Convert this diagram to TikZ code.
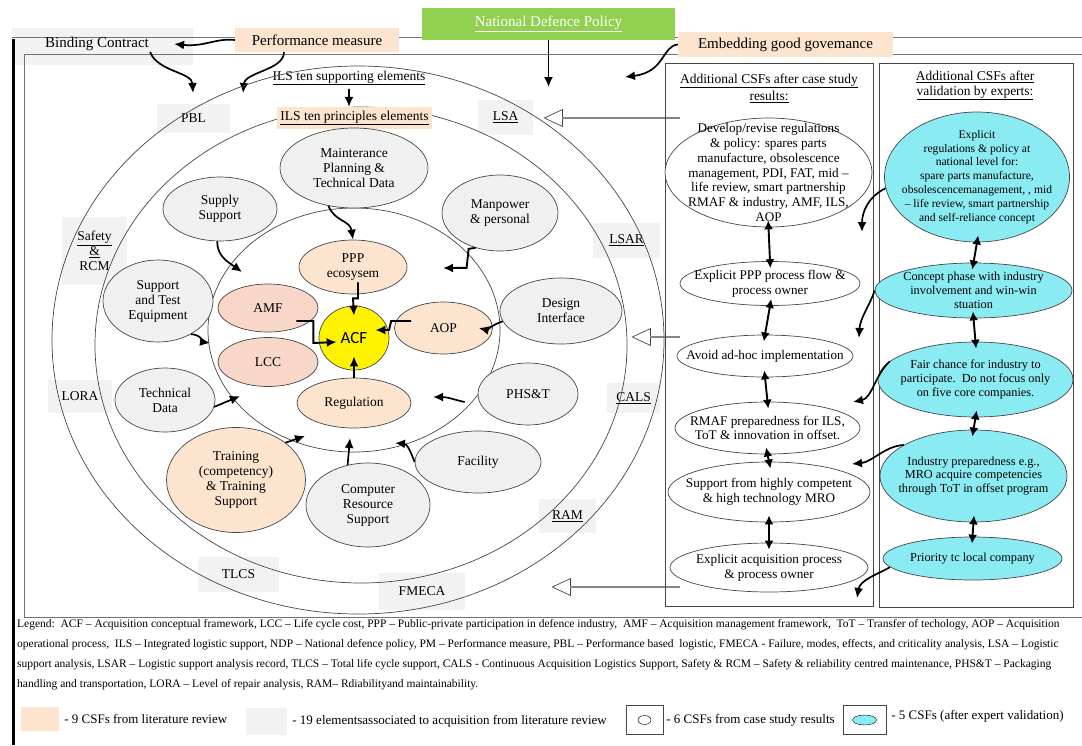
\documentclass[tikz,border=0pt]{standalone}
\usepackage{fontspec}
\setmainfont{Liberation Serif}
\newfontfamily\acffont{Carlito}
\usetikzlibrary{arrows.meta,shapes.geometric,shapes.arrows}

\definecolor{peach}{RGB}{252,228,206}
\definecolor{pinkpeach}{RGB}{248,214,200}
\definecolor{elemgray}{RGB}{240,240,240}
\definecolor{tagfill}{RGB}{242,242,242}
\definecolor{expcyan}{RGB}{138,236,242}
\definecolor{ndpgreen}{RGB}{146,208,80}
\definecolor{linegray}{RGB}{70,70,70}

\newcommand{\fsT}{\fontsize{15}{17}\selectfont}
\newcommand{\fsA}{\fontsize{13.5}{15}\selectfont}
\newcommand{\fsB}{\fontsize{13.2}{14.7}\selectfont}
\newcommand{\fsC}{\fontsize{12.3}{13.8}\selectfont}
\newcommand{\fsL}{\fontsize{11.5}{13}\selectfont}
\newcommand{\fsK}{\fontsize{13}{15}\selectfont}

\tikzset{
  sz/.style 2 args={minimum width=#1, minimum height=#2},
  elem/.style={ellipse, draw=linegray, line width=0.7pt, fill=elemgray, inner xsep=-40pt, inner ysep=-25pt, align=center, font=\fsA},
  litcsf/.style={elem, fill=peach},
  amfcsf/.style={elem, fill=pinkpeach},
  casecsf/.style={elem, fill=white, font=\fsB},
  expcsf/.style={elem, fill=expcyan, font=\fsC},
  tag/.style={fill=tagfill, inner sep=0pt, align=center, font=\fsA},
  ring/.style={draw=linegray, line width=0.7pt},
  wave/.style={-{Latex[length=10pt,width=9pt]}, line width=1.7pt},
  zig/.style={-{Latex[length=10pt,width=9pt]}, line width=1.9pt},
  both/.style={{Latex[length=9pt,width=9pt]}-{Latex[length=9pt,width=9pt]}, line width=1.9pt, shorten <=-7pt, shorten >=-7pt},
  hollow/.style={single arrow, draw=linegray, fill=white, line width=0.7pt, inner sep=0pt, minimum width=17pt, single arrow head extend=4.5pt, single arrow tip angle=50, shape border rotate=180},
}

\begin{document}
\begin{tikzpicture}[x=1pt,y=-1pt]
\useasboundingbox (0,0) rectangle (1082,745);
\clip (0,0) rectangle (1082,745);

% frame
\fill[tagfill] (12,28) rectangle (193,65);
\draw[black!55, line width=0.9pt] (12,37) -- (1082,37);
\draw[black!55, line width=0.9pt] (24,54) -- (1082,54) (24,54) -- (24,617) -- (1082,617);
\draw[line width=3pt] (13,39) -- (13,745);

% labels on top
\node[font=\fsT, inner sep=1pt] (binding) at (97,44) {Binding Contract};
\node[fill=peach, font=\fsT, inner sep=0pt, sz={164}{24}] (perf) at (317,40) {Performance measure};
\node[fill=ndpgreen, text=white, font=\fsT, inner sep=0pt, sz={253}{32}] (ndp) at (548.5,24) {\underline{National Defence Policy}};
\node[fill=peach, font=\fsT, inner sep=0pt, sz={215}{25}] (embed) at (785.5,44.5) {Embedding good govemance};

\coordinate (bcin) at (193,93);
\coordinate (pmin) at (243,93);
\coordinate (ndpin) at (548.5,87);
\coordinate (egin) at (625,77);
\draw[wave] (perf.west) .. controls (215,38) and (205,47) .. ([xshift=24pt]binding.east);
\draw[wave] (binding.south east) .. controls (158,72) and (192,72) .. (bcin);
\draw[wave] ([xshift=-33pt]perf.south) .. controls (284,70) and (245,72) .. (pmin);
\draw[wave] (ndp.south) -- (ndpin);
\draw[wave] (embed.west) .. controls (662,46) and (665,72) .. (egin);

% ILS rings and their labels
\node[font=\fsA] (supp) at (349,78) {\underline{ILS ten supporting elements}};
\node[tag, sz={73}{29}] (pbl) at (193.5,118.5) {PBL};
\node[tag, sz={55}{35}] (lsa) at (505.5,117.5) {\underline{LSA}};
\node[tag, sz={65}{68}] (safety) at (94.5,251) {\underline{Safety}\\\underline{\&}\\RCM};
\node[tag, sz={64}{33}] (lora) at (80,396.5) {LORA};
\node[tag, sz={67}{35}] (lsar) at (626.5,240.5) {\underline{LSAR}};
\node[tag, sz={53}{30}] (cals) at (633.5,398) {\underline{CALS}};
\node[tag, sz={57}{34}] (ram) at (567.5,516) {\underline{RAM}};
\node[tag, sz={81}{35}] (tlcs) at (238.5,574.5) {TLCS};
\node[tag, sz={86}{37}] (fmeca) at (422,591.5) {FMECA};

\draw[ring] (358,340) ellipse [x radius=306, y radius=274];
\draw[ring] (361,345) ellipse [x radius=266, y radius=238];
\draw[ring] (354,330) ellipse [x radius=146, y radius=122];

\node[tag, fill=peach, sz={155}{22}] (princ) at (354.5,118) {\underline{ILS ten principles elements}};
\draw[wave] (supp.south) -- (supp.south |- princ.north);

% supporting elements
\node[elem, sz={148}{80}] (maint) at (354,168) {Mainterance\\Planning \&\\Technical Data};
\node[elem, sz={114}{64}] (supply) at (220,209) {Supply\\Support};
\node[elem, sz={116}{76}] (manpower) at (500,213) {Manpower\\\& personal};
\node[elem, sz={110}{82}] (ste) at (158,301) {Support\\and Test\\Equipment};
\node[elem, sz={122}{66}] (design) at (561,311) {Design\\Interface};
\node[elem, sz={100}{64}] (techdata) at (165,400) {Technical\\Data};
\node[elem, sz={100}{62}] (phst) at (528,394) {PHS\&T};
\node[litcsf, sz={139}{105}] (training) at (236,480) {Training\\(competency)\\\& Training\\Support};
\node[elem, sz={124}{84}] (comp) at (368,505) {Computer\\Resource\\Support};
\node[elem, sz={126}{62}] (facility) at (478,462) {Facility};

% principle elements
\node[litcsf, sz={108}{54}] (ppp) at (353,267) {PPP\\ecosysem};
\node[amfcsf, sz={100}{48}] (amf) at (268,308) {AMF};
\node[amfcsf, sz={100}{49}] (lcc) at (268,362) {LCC};
\node[litcsf, sz={98}{52}] (aop) at (443.5,328) {AOP};
\node[litcsf, sz={114}{50}] (reg) at (354,403) {Regulation};
\node[ellipse, fill=yellow, draw=linegray, line width=0.7pt, inner sep=0pt, sz={70}{64}, font=\acffont\fontsize{17}{17}\selectfont] (acf) at (354,338) {ACF};

\coordinate (ssin) at (242,272);
\coordinate (stein) at (210,343);
\coordinate (tdin) at (240,396);
\coordinate (mpin) at (443,268);
\coordinate (phin) at (433,397);
\coordinate (trin) at (305,436);
\coordinate (cpin) at (350,438);
\coordinate (fcin) at (395,443);
\draw[wave] (supply.-95) .. controls (217,256) and (228,262) .. (ssin);
\draw[wave] (ste.-45) .. controls (202,335) and (203,342) .. (stein);
\draw[wave] (techdata.-8) -- (tdin);
\draw[wave] (maint.-124) .. controls (335,222) and (350,220) .. (ppp.north);
\draw[zig] (manpower.-125) -- ++(-7,1) -- ++(-2,19) -- (mpin);
\draw[zig] ([xshift=5pt,yshift=12pt]ppp.south) -- ++(0,16) -- ++(-5,0) -- ([yshift=-10pt]acf.north);
\draw[zig] ([xshift=17pt,yshift=7pt]aop.west) -- ++(-20,0) -- ++(-2,9) -- ([xshift=-14pt,yshift=8pt]acf.east);
\draw[zig] ([xshift=-22pt,yshift=-13pt]amf.east) -- ++(17,0) -- ++(0,22) -- ([xshift=18pt,yshift=-4pt]acf.west);
\draw[zig] (reg.north) -- ([yshift=14pt]acf.south);
\draw[wave] (design.190) .. controls (490,326) and (487,330) .. ([xshift=-14pt]aop.east);
\draw[wave] ([xshift=-13pt,yshift=-8pt]phst.west) .. controls (455,400) and (448,397) .. (phin);
\draw[wave] (training.37) -- (trin);
\draw[wave] (comp.117) -- (cpin);
\draw[wave] (facility.west) .. controls (410,450) and (407,444) .. (fcin);

% hollow arrows from the case study column
\node[hollow, minimum height=135pt] (ha1) at (612.5,118) {};
\node[hollow, minimum height=47pt] (ha2) at (656.5,337) {};
\node[hollow, minimum height=127pt] (ha3) at (616.5,587) {};

% case study column
\draw[linegray, line width=0.8pt] (665,63) rectangle (873,606);
\node[font=\fontsize{13.5}{17}\selectfont, align=center] (casetitle) at (769,88) {\underline{Additional CSFs after case study}\\\underline{results:}};
\node[casecsf, sz={207}{109}] (case1) at (768.5,172.5) {Develop/revise regulations\\\& policy: spares parts\\manufacture, obsolescence\\management, PDI, FAT, mid –\\life review, smart partnership\\RMAF \& industry, AMF, ILS,\\AOP};
\node[casecsf, sz={180}{44}] (case2) at (770,283.5) {Explicit PPP process flow \&\\process owner};
\node[casecsf, sz={176}{42}] (case3) at (765,356) {Avoid ad-hoc implementation};
\node[casecsf, sz={185}{52}] (case4) at (767.5,428) {RMAF preparedness for ILS,\\ToT \& innovation in offset.};
\node[casecsf, sz={202}{60}] (case5) at (769,492) {Support from highly competent\\\& high technology MRO};
\node[casecsf, sz={198}{49}] (case6) at (769,567.5) {Explicit acquisition process\\\& process owner};
\draw[both] (case1.south) -- (case2.north);
\draw[both] (case2.south) -- (case3.north);
\draw[both] (case3.south) -- (case4.north);
\draw[both] (case4.south) -- (case5.north);
\draw[both] (case5.south) -- (case6.north);

% expert validation column
\draw[linegray, line width=0.8pt] (879,63) rectangle (1073,607);
\node[font=\fontsize{13.5}{15}\selectfont, align=center] (exptitle) at (975,85.5) {\underline{Additional CSFs after}\\\underline{validation by experts:}};
\node[expcsf, sz={185}{130}, font=\fontsize{11.6}{13.8}\selectfont] (expA) at (977,177) {Explicit\\regulations \& policy at\\national level for:\\spare parts manufacture,\\obsolescencemanagement, , mid\\– life review, smart partnership\\and self-reliance concept};
\node[expcsf, sz={197}{55}] (expB) at (973.5,290.5) {Concept phase with industry\\involvement and win-win\\stuation};
\node[expcsf, sz={195}{75}] (expC) at (975.5,379.5) {Fair chance for industry to\\participate.\ \ Do not focus only\\on five core companies.};
\node[expcsf, sz={187}{92}] (expD) at (973.5,476) {Industry preparedness e.g.,\\MRO acquire competencies\\through ToT in offset program};
\node[expcsf, sz={179}{43}] (expE) at (972.5,558.5) {Priority tc local company};
\draw[both] (expA.south) -- (expB.north);
\draw[both] (expB.south) -- (expC.north);
\draw[both] (expC.south) -- (expD.north);
\draw[both] (expD.south) -- (expE.north);

\coordinate (c1in) at (862,232);
\coordinate (c2in) at (859,338);
\coordinate (c3in) at (853,402);
\coordinate (c4in) at (852,464);
\coordinate (c5in) at (857,598);
\draw[wave] (expA.187) .. controls (868,197) and (862,212) .. (c1in);
\draw[wave] (expB.west) .. controls (870,305) and (860,318) .. (c2in);
\draw[wave] (expC.168) .. controls (875,375) and (872,398) .. (c3in);
\draw[wave] (expD.156) .. controls (885,446) and (872,462) .. (c4in);
\draw[wave] (expE.186) .. controls (878,574) and (860,580) .. (c5in);

% legend
\node[anchor=west, font=\fsL, inner sep=0pt] (leg1) at (17,625) {Legend:\ \ ACF – Acquisition conceptual framework, LCC – Life cycle cost, PPP – Public-private participation in defence industry,\ \ AMF – Acquisition management framework,\ \ ToT – Transfer of techology, AOP – Acquisition};
\node[anchor=west, font=\fsL, inner sep=0pt] (leg2) at (17,645) {operational process,\ \ ILS – Integrated logistic support, NDP – National defence policy, PM – Performance measure, PBL – Performance based\ \ logistic, FMECA - Failure, modes, effects, and criticality analysis, LSA – Logistic};
\node[anchor=west, font=\fsL, inner sep=0pt] (leg3) at (17,665) {support analysis, LSAR – Logistic support analysis record, TLCS – Total life cycle support, CALS - Continuous Acquisition Logistics Support, Safety \& RCM – Safety \& reliability centred maintenance, PHS\&T – Packaging};
\node[anchor=west, font=\fsL, inner sep=0pt] (leg4) at (17,685) {handling and transportation, LORA – Level of repair analysis, RAM– Rdiabilityand maintainability.};

\node[fill=peach, inner sep=0pt, sz={38}{24}] (keylit) at (40,719) {};
\node[anchor=west, font=\fsK, inner sep=5pt] at (keylit.east) {- 9 CSFs from literature review};
\node[fill=tagfill, inner sep=0pt, sz={41}{27}] (keyelem) at (266.5,721.5) {};
\node[anchor=west, font=\fsK, inner sep=5pt] at (keyelem.east) {- 19 elementsassociated to acquisition from literature review};
\node[draw=linegray, inner sep=0pt, sz={37}{29}] (keycase) at (644.5,720) {};
\node[ellipse, draw=black, inner sep=0pt, sz={13}{9}] (keycaseov) at (keycase) {};
\node[anchor=west, font=\fsK, inner sep=3pt] at (keycase.east) {- 6 CSFs from case study results};
\node[draw=linegray, inner sep=0pt, sz={43}{29}] (keyexp) at (864.5,720) {};
\node[ellipse, draw=black, fill=expcyan, inner sep=0pt, sz={24}{10}] (keyexpov) at (keyexp) {};
\node[anchor=west, font=\fsK, inner sep=5pt] at ([yshift=4pt]keyexp.east) {- 5 CSFs (after expert validation)};
\end{tikzpicture}
\end{document}
